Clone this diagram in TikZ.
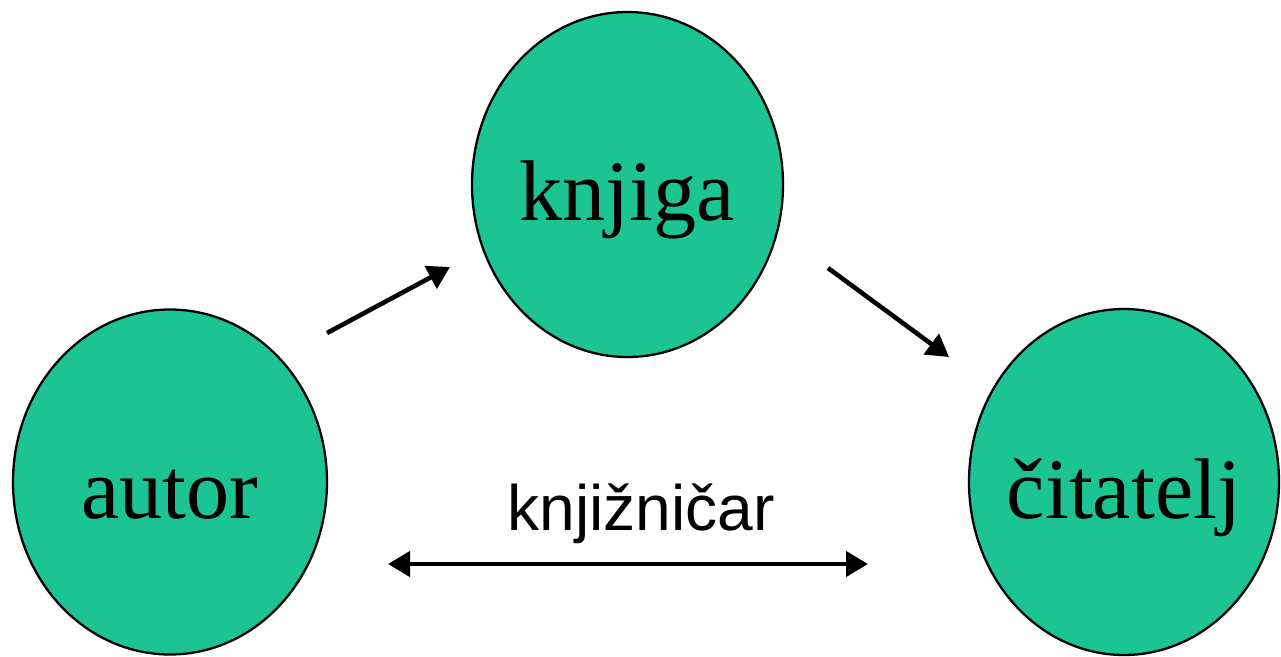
\documentclass[tikz,border=0pt]{standalone}
\usepackage{fontspec}
\setmainfont{Liberation Serif}
\newfontfamily\labelfont{Liberation Sans}
\usetikzlibrary{arrows.meta,shapes.geometric}
\definecolor{roleGreen}{RGB}{28,196,148}
\tikzset{
	role/.style={ellipse, draw=black, line width=1.3pt, fill=roleGreen, inner xsep=-0.6cm, inner ysep=0pt,
		text height=1.8cm, text depth=0.36cm, font=\fontsize{49}{49}\selectfont},
	flow/.style={line width=2.6pt, -{Triangle[length=0.44cm,width=0.5cm]}},
	flowboth/.style={line width=2.6pt, {Triangle[length=0.44cm,width=0.5cm]}-{Triangle[length=0.44cm,width=0.5cm]}}
}
\begin{document}
\begin{tikzpicture}
			%%%%% START %%%%%
			\useasboundingbox (0, 0) rectangle (25.62, -13.12);
			
			\node[role, minimum width=6.28cm, minimum height=6.90cm] (autor) at (3.40, -9.64) {autor};
			\node[role, minimum width=6.22cm, minimum height=6.90cm] (knjiga) at (12.55, -3.69) {knjiga};
			\node[role, minimum width=6.20cm, minimum height=6.92cm] (citatelj) at (22.48, -9.64) {čitatelj};
			
			\coordinate (autorOut) at (6.54, -6.66);
			\coordinate (knjigaIn) at (9.00, -5.34);
			\coordinate (knjigaOut) at (16.56, -5.36);
			\coordinate (citateljIn) at (18.98, -7.14);
			\coordinate (libLeft) at (7.76, -11.28);
			\coordinate (libRight) at (17.36, -11.28);
			
			\draw[flow] (autorOut) -- (knjigaIn);
			\draw[flow] (knjigaOut) -- (citateljIn);
			\draw[flowboth] (libLeft) -- (libRight);
			
			\node[font=\labelfont\fontsize{36.5}{36.5}\selectfont, anchor=base] (knjiznicar) at (12.82, -10.60) {knjižničar};
			
			%%%%% END %%%%%
\end{tikzpicture}
\end{document}
